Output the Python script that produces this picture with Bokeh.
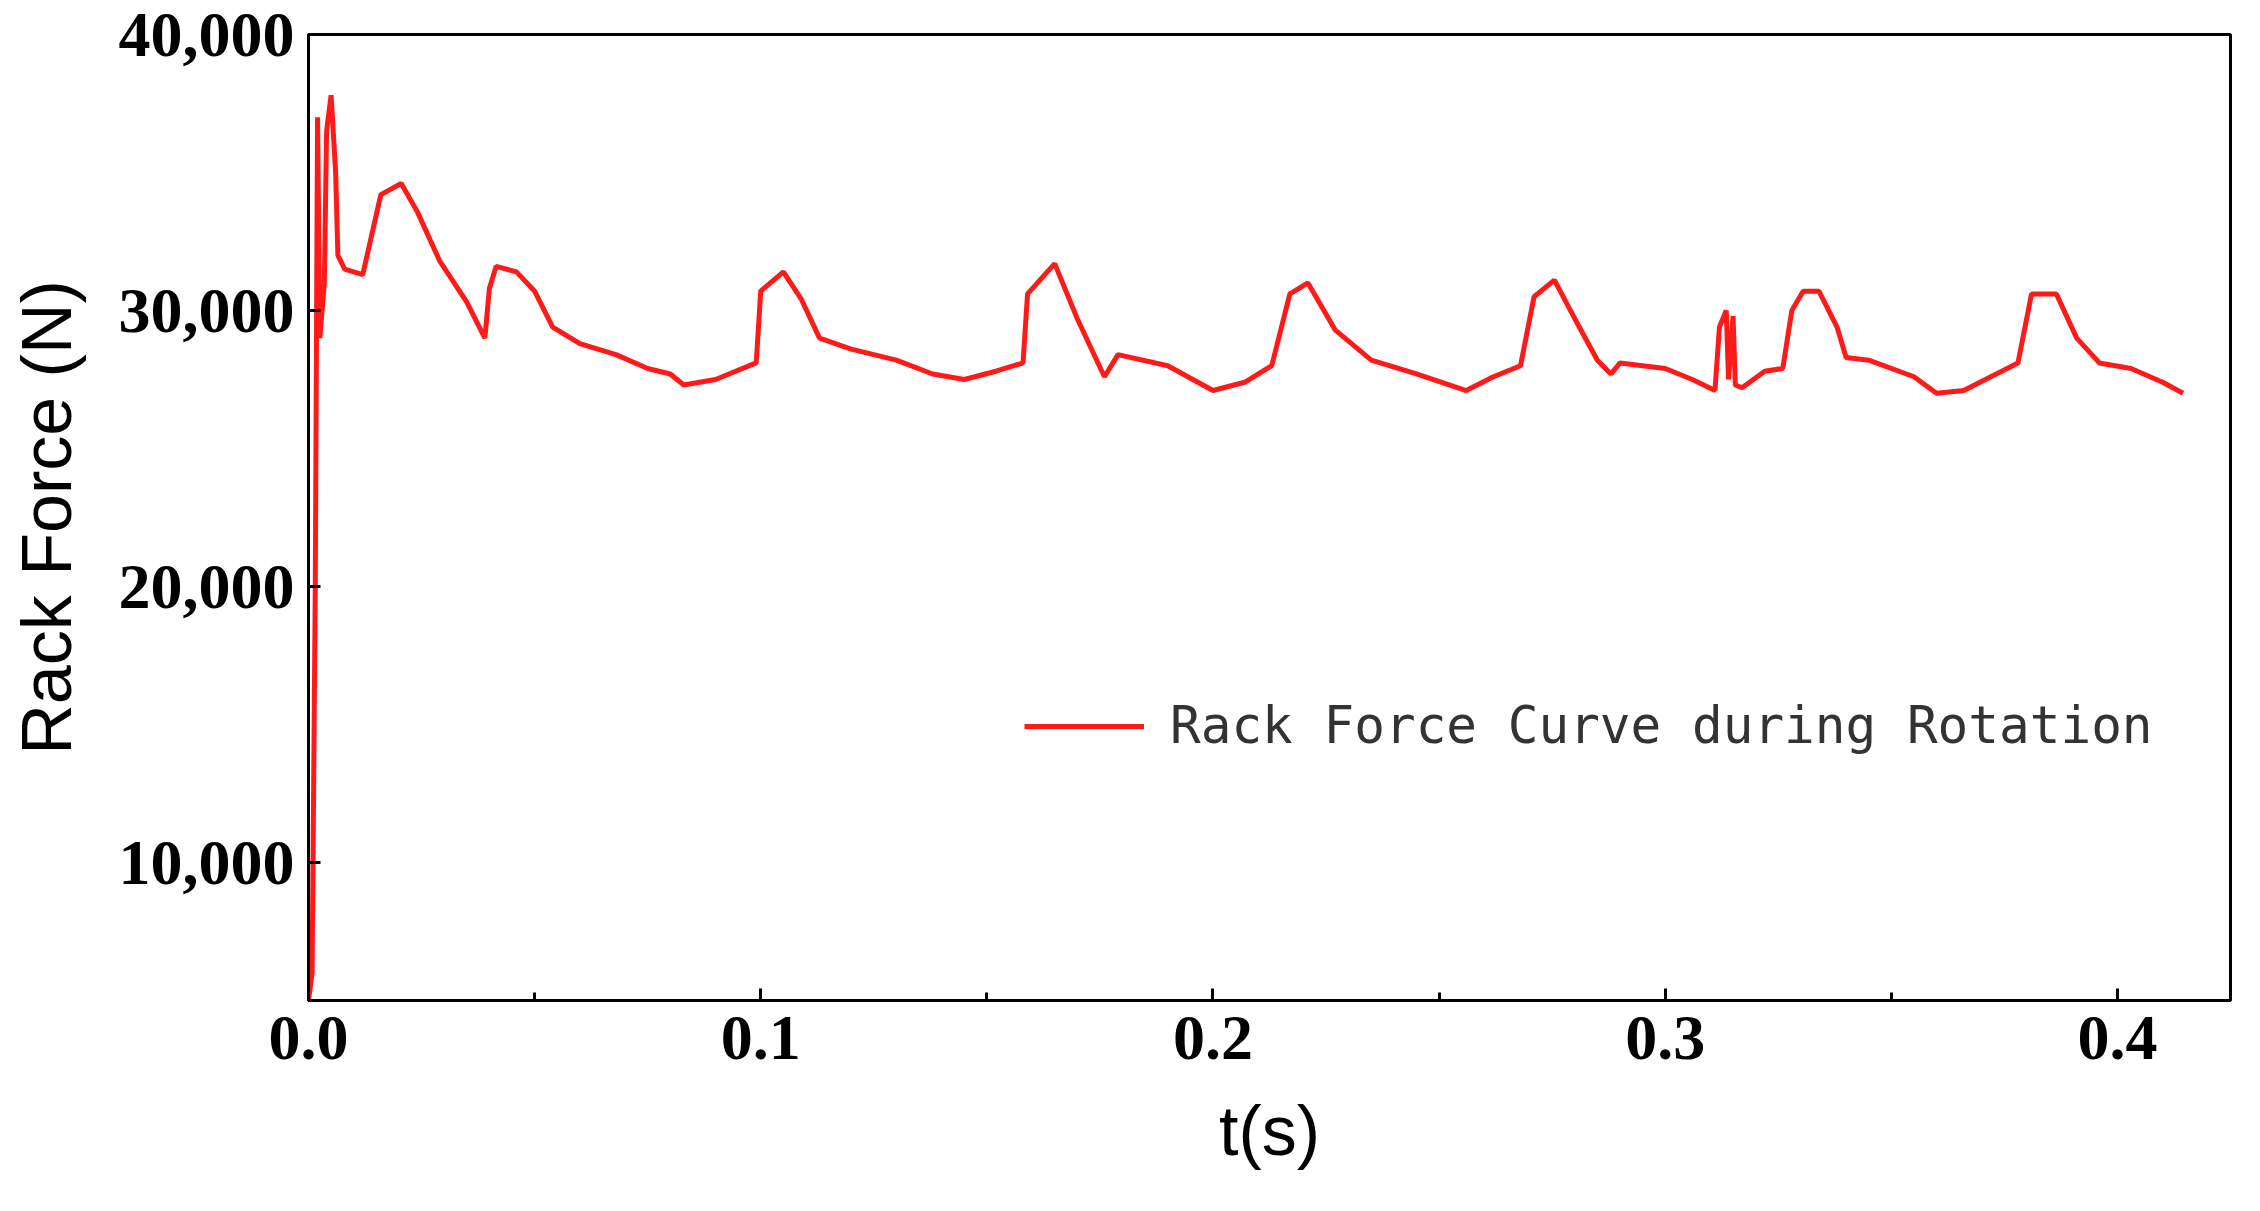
from bokeh.plotting import figure
from bokeh.embed import file_html
from bokeh.resources import INLINE
from bokeh.models import NumeralTickFormatter, FixedTicker, Legend, LegendItem, Range1d

t = [0, 0.0008, 0.0015, 0.002, 0.0025, 0.0035, 0.004, 0.005, 0.006, 0.0065, 0.008, 0.012, 0.016, 0.0205,
     0.024, 0.029, 0.035, 0.039, 0.040, 0.0415, 0.046, 0.050, 0.054, 0.060, 0.068, 0.075, 0.080, 0.083,
     0.090, 0.099, 0.100, 0.105, 0.109, 0.113, 0.120, 0.130, 0.138, 0.145, 0.152, 0.158, 0.159, 0.165,
     0.170, 0.176, 0.179, 0.190, 0.200, 0.207, 0.213, 0.217, 0.221, 0.227, 0.235, 0.245, 0.256, 0.262,
     0.268, 0.271, 0.2755, 0.281, 0.285, 0.288, 0.290, 0.300, 0.306, 0.311, 0.312, 0.3135, 0.314, 0.315,
     0.3155, 0.317, 0.322, 0.326, 0.328, 0.3305, 0.334, 0.338, 0.340, 0.345, 0.355, 0.360, 0.366, 0.372,
     0.378, 0.381, 0.3865, 0.391, 0.396, 0.403, 0.410, 0.4145]
force = [5000, 6000, 20000, 37000, 29000, 31000, 36500, 37800, 35000, 32000, 31500, 31300, 34200, 34600,
         33600, 31800, 30300, 29000, 30800, 31600, 31400, 30700, 29400, 28800, 28400, 27900, 27700, 27300,
         27500, 28100, 30700, 31400, 30400, 29000, 28600, 28200, 27700, 27500, 27800, 28100, 30600, 31700,
         29700, 27600, 28400, 28000, 27100, 27400, 28000, 30600, 31000, 29300, 28200, 27700, 27100, 27600,
         28000, 30500, 31100, 29400, 28200, 27700, 28100, 27900, 27500, 27100, 29400, 30000, 27500, 29800,
         27300, 27200, 27800, 27900, 30000, 30700, 30700, 29400, 28300, 28200, 27600, 27000, 27100, 27600,
         28100, 30600, 30600, 29000, 28100, 27900, 27400, 27000]
x_ticks = [0.0, 0.1, 0.2, 0.3, 0.4]
y_ticks = [10000, 20000, 30000, 40000]
series_name = "Rack Force Curve during Rotation"

p = figure(width=2244, height=1195, output_backend="svg", toolbar_location=None,
           x_range=Range1d(0, 0.425), y_range=Range1d(5000, 40000))
p.min_border_left = 308
p.min_border_right = 14
p.min_border_top = 34
p.min_border_bottom = 195
p.outline_line_color = "black"
p.outline_line_width = 3
p.grid.visible = False

r = p.line(t, force, line_color="#ff1a1a", line_width=5)

for ax in (p.xaxis[0], p.yaxis[0]):
    ax.axis_line_width = 3
    ax.major_tick_in = 12
    ax.major_tick_out = 0
    ax.minor_tick_in = 8
    ax.minor_tick_out = 0
    ax.major_tick_line_width = 3
    ax.minor_tick_line_width = 3
    ax.major_label_text_font = "Liberation Serif"
    ax.major_label_text_font_style = "bold"
    ax.major_label_text_font_size = "64px"
    ax.major_label_text_color = "black"
    ax.axis_label_text_font = "Liberation Sans"
    ax.axis_label_text_font_style = "normal"
    ax.axis_label_text_font_size = "70px"
    ax.axis_label_text_color = "black"

p.xaxis.ticker = FixedTicker(ticks=x_ticks, minor_ticks=[0.05, 0.15, 0.25, 0.35])
p.yaxis.ticker = FixedTicker(ticks=y_ticks, minor_ticks=[])
p.yaxis.formatter = NumeralTickFormatter(format="0,0")
p.xaxis.formatter = NumeralTickFormatter(format="0.0")
p.xaxis.axis_label = "t(s)"
p.yaxis.axis_label = "Rack Force (N)"
p.xaxis.major_label_standoff = 16
p.yaxis.major_label_standoff = 14
p.xaxis.axis_label_standoff = 30
p.yaxis.axis_label_standoff = 30

legend = Legend(items=[LegendItem(label=series_name, renderers=[r])], location=(716, 245))
legend.border_line_color = None
legend.background_fill_alpha = 0
legend.label_text_font = "DejaVu Sans Mono"
legend.label_text_font_size = "51px"
legend.label_text_color = "#333333"
legend.label_standoff = 26
legend.glyph_width = 120
legend.glyph_height = 40
p.add_layout(legend, "center")

open("out.html", "w").write(file_html(p, INLINE))
